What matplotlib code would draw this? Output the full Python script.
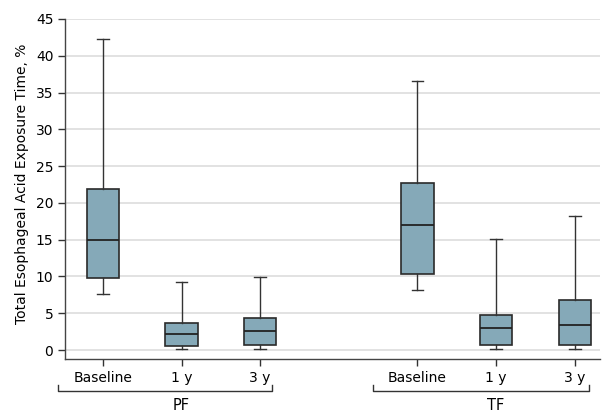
import matplotlib.pyplot as plt
from matplotlib import transforms

plt.rcParams['font.family'] = ['Liberation Sans Narrow', 'DejaVu Sans']

# box statistics
labels = ['Baseline', '1 y', '3 y', 'Baseline', '1 y', '3 y']
positions = [0, 1, 2, 4, 5, 6]
whislo = [7.6, 0.2, 0.1, 8.2, 0.2, 0.2]
q1 = [9.8, 0.6, 0.7, 10.4, 0.65, 0.75]
med = [14.9, 2.2, 2.6, 17.0, 3.0, 3.4]
q3 = [21.9, 3.7, 4.4, 22.7, 4.7, 6.8]
whishi = [42.3, 9.2, 9.9, 36.6, 15.1, 18.2]
groups = ['PF', 'TF']

stats = []
for i in range(len(labels)):
    stats.append(dict(whislo=whislo[i], q1=q1[i], med=med[i], q3=q3[i],
                      whishi=whishi[i], fliers=[]))

fig = plt.figure(figsize=(6.09, 4.13), dpi=100)
ax = fig.add_axes([0.107, 0.131, 0.878, 0.823])

ax.bxp(stats, positions=positions, widths=0.41, showfliers=False, patch_artist=True,
       boxprops=dict(facecolor='#85a9b8', edgecolor='#2a2a2a', linewidth=1.2),
       medianprops=dict(color='#222222', linewidth=1.3),
       whiskerprops=dict(color='#333333', linewidth=1.0),
       capprops=dict(color='#333333', linewidth=1.0),
       capwidths=0.15)

ax.set_ylim(-1.2, 45)
ax.set_xlim(-0.48, 6.32)
ax.set_yticks(range(0, 46, 5))
ax.yaxis.grid(True, color='#dddddd', linewidth=1.2)
ax.set_axisbelow(True)
ax.set_xticks(positions)
ax.set_xticklabels(labels)
ax.tick_params(labelsize=10, color='#333333', length=5, width=1)
ax.tick_params(axis='x', pad=4)
for s in ['top', 'right']:
    ax.spines[s].set_visible(False)
for s in ['left', 'bottom']:
    ax.spines[s].set_color('#444444')
    ax.spines[s].set_linewidth(1.0)
ax.spines['left'].set_bounds(-1.2, 45)
ax.set_ylabel('Total Esophageal Acid Exposure Time, %', fontsize=10)
ax.yaxis.set_label_coords(-0.068, 0.515)

# group brackets under the tick labels
tr = transforms.blended_transform_factory(ax.transData, fig.transFigure)
brackets = [(-0.57, 2.15, 1), (3.43, 6.18, 5)]
yb = 1 - 391 / 413
for (x0, x1, xc), name in zip(brackets, groups):
    ax.plot([x0, x0, x1, x1], [yb + 0.0145, yb, yb, yb + 0.0145], transform=tr,
            color='#333333', linewidth=1.0, clip_on=False)
    fig.text(xc, 1 - 405 / 413, name, transform=tr, ha='center', va='center',
             fontsize=10.5)

fig.savefig('out.png', dpi=100)
